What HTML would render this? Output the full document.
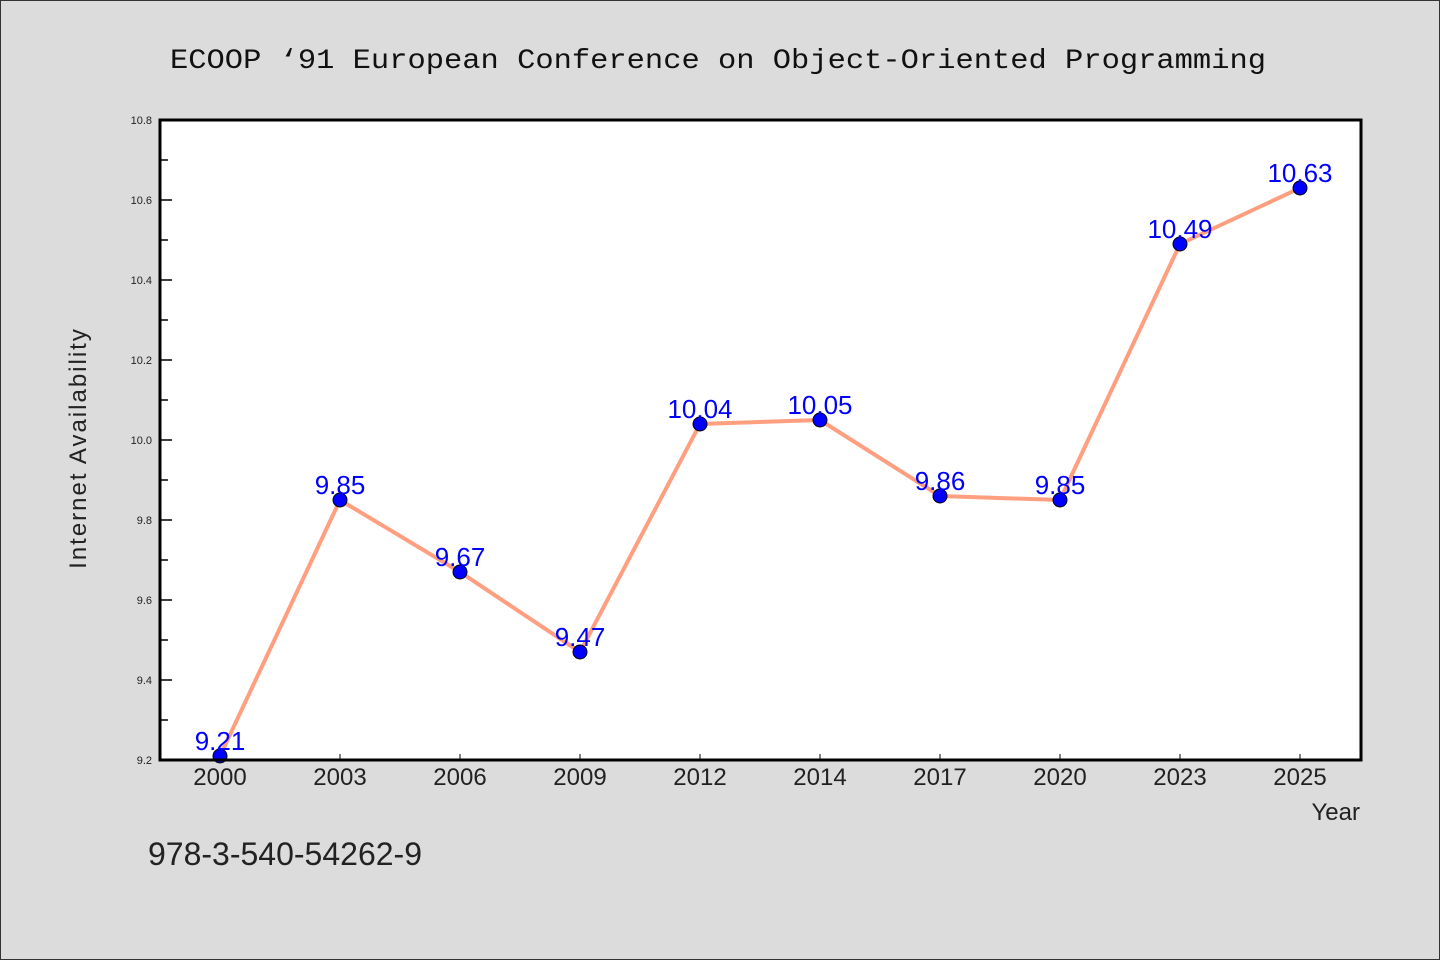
<!DOCTYPE html>
<html><head><meta charset="utf-8"><style>
html,body{margin:0;padding:0;background:#dcdcdc;}
svg{display:block;font-family:"WenQuanYi Zen Hei","Liberation Sans",sans-serif;}
</style></head><body>
<svg id="chart" width="1440" height="960" viewBox="0 0 1440 960">
<rect x="0.5" y="0.5" width="1439" height="959" fill="#dcdcdc" stroke="#333"/>
<text x="170" y="68" font-size="28" fill="#111" textLength="1096" lengthAdjust="spacingAndGlyphs" font-family="'Liberation Mono',monospace">ECOOP  ‘91 European Conference on Object-Oriented Programming</text>
<rect x="160" y="120" width="1201" height="640" fill="#fff"/>
<g id="axes"></g>
<g id="series"></g>
<rect x="160" y="120" width="1201" height="640" fill="none" stroke="#000" stroke-width="3"/>
<text x="86" y="448" font-size="24" fill="#222" transform="rotate(-90 86 448)" text-anchor="middle" letter-spacing="2">Internet Availability</text>
<text x="1360" y="820" font-size="24" fill="#222" text-anchor="end">Year</text>
<text x="148" y="865" font-size="32" fill="#222">978-3-540-54262-9</text>
</svg>
<script>
const categories = ["2000","2003","2006","2009","2012","2014","2017","2020","2023","2025"];
const values = [9.21,9.85,9.67,9.47,10.04,10.05,9.86,9.85,10.49,10.63];
const yTicks = [9.2,9.4,9.6,9.8,10.0,10.2,10.4,10.6,10.8];
const yMin = 9.2, yMax = 10.8;
const NS = "http://www.w3.org/2000/svg";
const x = i => 220 + i * 120;
const y = v => 760 - (v - yMin) / (yMax - yMin) * 640;
function mk(tag, attrs, parent, text){
  const el = document.createElementNS(NS, tag);
  for (const k in attrs) el.setAttribute(k, attrs[k]);
  if (text !== undefined) el.textContent = text;
  parent.appendChild(el);
  return el;
}
const axes = document.getElementById("axes");
const series = document.getElementById("series");
yTicks.forEach((t, i) => {
  const tk = mk("line", {x1:160, x2:172, y1:y(t), y2:y(t), stroke:"#000", "stroke-width":1.5}, axes);
  
  
  const lb = mk("text", {x:152, y:y(t)+4, "font-size":11, fill:"#222", "text-anchor":"end"}, axes, t.toFixed(1));
  
  
  if (i < yTicks.length - 1) {
    const m = (t + yTicks[i+1]) / 2;
    const mt = mk("line", {x1:160, x2:168, y1:y(m), y2:y(m), stroke:"#000", "stroke-width":1.5}, axes);
    
    
  }
});
categories.forEach((c, i) => {
  const tk = mk("line", {x1:x(i), x2:x(i), y1:760, y2:754, stroke:"#000", "stroke-width":1}, axes);
  
  
  const lb = mk("text", {x:x(i), y:785, "font-size":24, fill:"#222", "text-anchor":"middle"}, axes, c);
  
  
});
const line = mk("polyline", {points: values.map((v,i)=>x(i)+","+y(v)).join(" "), fill:"none", stroke:"#ff9f7f", "stroke-width":4, "stroke-linejoin":"round"}, series);


values.forEach((v, i) => {
  const p = mk("circle", {cx:x(i), cy:y(v), r:7, fill:"#0000ff", stroke:"#000", "stroke-width":1}, series);
  
  
  const lb = mk("text", {x:x(i), y:y(v)-6, "font-size":26, fill:"#0000ff", "text-anchor":"middle"}, series, v.toFixed(2));
  
  
});
</script>
</body></html>
